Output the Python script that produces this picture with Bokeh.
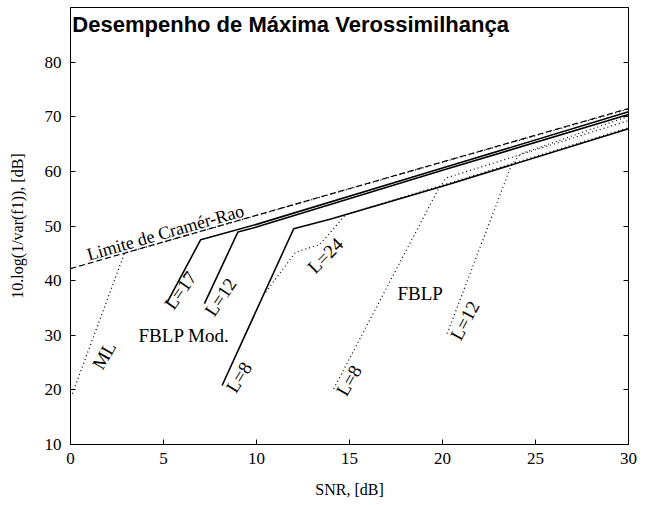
from bokeh.plotting import figure
from bokeh.models import Range1d, FixedTicker, LinearAxis, Label, ColumnDataSource
from bokeh.core.properties import value
from bokeh.embed import file_html
from bokeh.resources import INLINE

# ---- data ----
snr_crb = [0, 30]
crb = [42.2, 71.5]

snr_ml = [0.1, 2.9, 30]
ml = [19.3, 45.0, 71.4]

snr_mod17 = [5.2, 7.0, 10, 20, 30]
mod17 = [36.0, 47.5, 50.3, 60.6, 70.9]

snr_mod12 = [7.2, 9.0, 10, 20, 30]
mod12 = [35.8, 48.9, 49.8, 60.2, 70.4]

snr_mod8 = [8.15, 12.0, 14, 20.4, 30]
mod8 = [20.8, 49.5, 51.3, 57.7, 67.8]

snr_mod24 = [10.5, 12.1, 13.4, 14.8, 20.4, 30]
mod24 = [37.9, 45.2, 46.6, 52.1, 57.9, 68.0]

snr_fblp8 = [14.15, 19.8, 20.2, 30]
fblp8 = [20.2, 56.9, 58.8, 69.3]

snr_fblp12 = [20.25, 23.7, 24.2, 30]
fblp12 = [30.3, 61.1, 63.2, 70.1]

x_ticks = [0, 5, 10, 15, 20, 25, 30]
y_ticks = [10, 20, 30, 40, 50, 60, 70, 80]
y_ticks_right = [10, 20, 30, 40, 50, 60, 70, 80, 90]

label_text = ["ML", "L=17", "L=12", "FBLP Mod.", "L=8", "L=24", "L=8", "FBLP", "L=12"]

# ---- annotation placement ----
label_x = [1.8, 5.9, 8.06, 6.1, 9.05, 13.7, 14.97, 18.8, 21.2]
label_y = [26.3, 38.2, 37.0, 30.0, 22.3, 44.6, 21.7, 37.7, 32.7]
label_ang = [60, 55, 56, 0, 58, 45, 60, 0, 62]

SERIF = "Liberation Serif"

p = figure(width=672, height=505, output_backend="svg", toolbar_location=None,
           x_range=Range1d(0, 30), y_range=Range1d(10, 90),
           min_border_left=70, min_border_right=44, min_border_top=7, min_border_bottom=61)
p.xgrid.grid_line_color = None
p.ygrid.grid_line_color = None
p.outline_line_color = "black"
p.outline_line_width = 1
p.background_fill_color = "white"
p.border_fill_color = "white"

def style_axis(ax, ticks):
    ax.ticker = FixedTicker(ticks=ticks)
    ax.major_tick_in = 5
    ax.major_tick_out = 0
    ax.minor_tick_line_color = None
    ax.axis_line_color = "black"
    ax.major_tick_line_color = "black"
    ax.major_label_text_font = SERIF
    ax.major_label_text_font_size = "17px"
    ax.major_label_text_color = "black"
    ax.axis_label_text_font = SERIF
    ax.axis_label_text_font_size = "16px"
    ax.axis_label_text_font_style = "normal"
    ax.axis_label_text_color = "black"

style_axis(p.xaxis[0], x_ticks)
p.xaxis[0].axis_label = "SNR, [dB]"
p.xaxis[0].major_label_standoff = 8
p.xaxis[0].axis_label_standoff = 14

style_axis(p.yaxis[0], y_ticks)
p.yaxis[0].axis_label = "10.log(1/var(f1)), [dB]"
p.yaxis[0].major_label_standoff = 9
p.yaxis[0].axis_label_standoff = 16

right = LinearAxis()
style_axis(right, y_ticks_right)
right.major_label_overrides = {t: "" for t in y_ticks_right}
right.major_label_standoff = 0
p.add_layout(right, "right")

# ---- curves ----
p.line(snr_crb, crb, line_color="black", line_width=1.2, line_dash="6 3")
p.line(snr_ml, ml, line_color="black", line_width=1.2, line_dash="1 3")
p.line(snr_mod17, mod17, line_color="black", line_width=1.6)
p.line(snr_mod12, mod12, line_color="black", line_width=1.6)
p.line(snr_mod8, mod8, line_color="black", line_width=1.6)
p.line(snr_mod24, mod24, line_color="black", line_width=1.2, line_dash="1 3")
p.line(snr_fblp8, fblp8, line_color="black", line_width=1.2, line_dash="1 3")
p.line(snr_fblp12, fblp12, line_color="black", line_width=1.2, line_dash="1 3")

# ---- texts ----
src = ColumnDataSource(dict(x=label_x, y=label_y, t=label_text, a=label_ang))
p.text(x="x", y="y", text="t", angle="a", angle_units="deg", source=src,
       text_font=value(SERIF), text_font_size="19px", text_color="black",
       text_align="center", text_baseline="middle")

p.text(x=[0.9], y=[44.7], text=["Limite de Cramér-Rao"], angle=[16.0], angle_units="deg",
       text_font=value(SERIF), text_font_size="18px", text_color="black",
       text_align="left", text_baseline="alphabetic")

title = Label(x=0.1, y=86.9, text="Desempenho de Máxima Verossimilhança",
              text_font="Liberation Sans", text_font_style="bold", text_font_size="22px",
              text_color="black", text_baseline="alphabetic", text_align="left")
p.add_layout(title)

open("out.html", "w").write(file_html(p, INLINE))
